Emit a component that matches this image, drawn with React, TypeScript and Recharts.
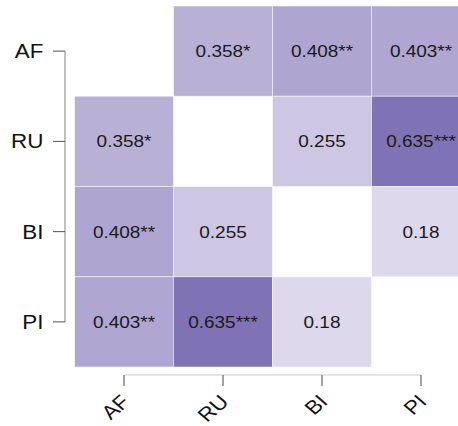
import { ScatterChart, Scatter, XAxis, YAxis, ReferenceLine } from 'recharts';

const labels = ['AF', 'RU', 'BI', 'PI'];

// correlation matrix, row by row (null = diagonal, left blank)
const rowAF = [null, 0.358, 0.408, 0.403];
const rowRU = [0.358, null, 0.255, 0.635];
const rowBI = [0.408, 0.255, null, 0.18];
const rowPI = [0.403, 0.635, 0.18, null];

// significance stars
const starsAF = ['', '*', '**', '**'];
const starsRU = ['*', '', '', '***'];
const starsBI = ['**', '', '', ''];
const starsPI = ['**', '***', '', ''];

const rows = [rowAF, rowRU, rowBI, rowPI];
const stars = [starsAF, starsRU, starsBI, starsPI];

const cells: { x: number; y: number; v: number; text: string }[] = [];
rows.forEach((row, i) => {
    row.forEach((v, j) => {
        if (v === null) return;
        cells.push({ x: j, y: i, v, text: `${v}${stars[i][j]}` });
    });
});

const W = 458;
const H = 426;
const MARGIN = { top: 6, right: -12.5, bottom: 0, left: 0 };
const Y_AXIS_W = 74.5;
const X_AXIS_H = 59;
const CELL_W = (W - MARGIN.left - MARGIN.right - Y_AXIS_W) / 4;
const CELL_H = (H - MARGIN.top - MARGIN.bottom - X_AXIS_H) / 4;
const STRETCH = 1.15;
const FONT = '"Liberation Sans", Arial, sans-serif';

const lo = [221, 216, 236];
const hi = [128, 115, 181];
const vMin = 0.18;
const vMax = 0.635;
function colorFor(v: number) {
    const t = (v - vMin) / (vMax - vMin);
    const c = lo.map((a, k) => Math.round(a + (hi[k] - a) * t));
    return `rgb(${c[0]},${c[1]},${c[2]})`;
}

function Cell(props: any) {
    const { cx, cy, payload } = props;
    return (
        <g>
            <rect
                x={cx - CELL_W / 2}
                y={cy - CELL_H / 2}
                width={CELL_W}
                height={CELL_H}
                fill={colorFor(payload.v)}
                stroke="#ffffff"
                strokeOpacity={0.5}
                strokeWidth={1}
            />
            <text
                transform={`translate(${cx},${cy + 6}) scale(${STRETCH},1)`}
                textAnchor="middle"
                fontFamily={FONT}
                fontSize={16.5}
                fill="#1a1a1a"
            >
                {payload.text}
            </text>
        </g>
    );
}

function YTick(props: any) {
    const { x, y, payload } = props;
    return (
        <g>
            <line x1={x - 21.5} x2={x - 9.5} y1={y} y2={y} stroke="#555" strokeWidth={1} />
            <text
                transform={`translate(${x - 31},${y + 7}) scale(${STRETCH},1)`}
                textAnchor="end"
                fontFamily={FONT}
                fontSize={19.5}
                fill="#111"
            >
                {labels[payload.value]}
            </text>
        </g>
    );
}

function XTick(props: any) {
    const { x, y, payload } = props;
    return (
        <g>
            <line x1={x} x2={x} y1={y + 8} y2={y + 19} stroke="#666" strokeWidth={1.2} />
            <text
                transform={`translate(${x + 7},${y + 36}) scale(${STRETCH},1) rotate(-45)`}
                textAnchor="end"
                fontFamily={FONT}
                fontSize={19.5}
                fill="#111"
            >
                {labels[payload.value]}
            </text>
        </g>
    );
}

export default function App() {
    return (
        <div style={{ position: 'absolute', left: 0, top: 0, width: W, height: H, background: '#fff' }}>
            <ScatterChart width={W} height={H} margin={MARGIN}>
                <XAxis
                    type="number"
                    dataKey="x"
                    domain={[-0.5, 3.5]}
                    ticks={[0, 1, 2, 3]}
                    axisLine={false}
                    tickLine={false}
                    tickSize={0}
                    tickMargin={0}
                    height={X_AXIS_H}
                    tick={<XTick />}
                    allowDataOverflow
                />
                <YAxis
                    type="number"
                    dataKey="y"
                    domain={[-0.5, 3.5]}
                    ticks={[0, 1, 2, 3]}
                    reversed
                    axisLine={false}
                    tickLine={false}
                    tickSize={0}
                    tickMargin={0}
                    width={Y_AXIS_W}
                    tick={<YTick />}
                    allowDataOverflow
                />
                <ReferenceLine
                    segment={[{ x: 0, y: 3.5 + 8 / CELL_H }, { x: 3, y: 3.5 + 8 / CELL_H }]}
                    stroke="#dddddd"
                    strokeWidth={1.5}
                    ifOverflow="visible"
                />
                <ReferenceLine
                    segment={[{ x: -0.5 - 9.5 / CELL_W, y: 0 }, { x: -0.5 - 9.5 / CELL_W, y: 3 }]}
                    stroke="#aaaaaa"
                    strokeWidth={1.5}
                    ifOverflow="visible"
                />
                <Scatter data={cells} shape={<Cell />} isAnimationActive={false} />
            </ScatterChart>
        </div>
    );
}
